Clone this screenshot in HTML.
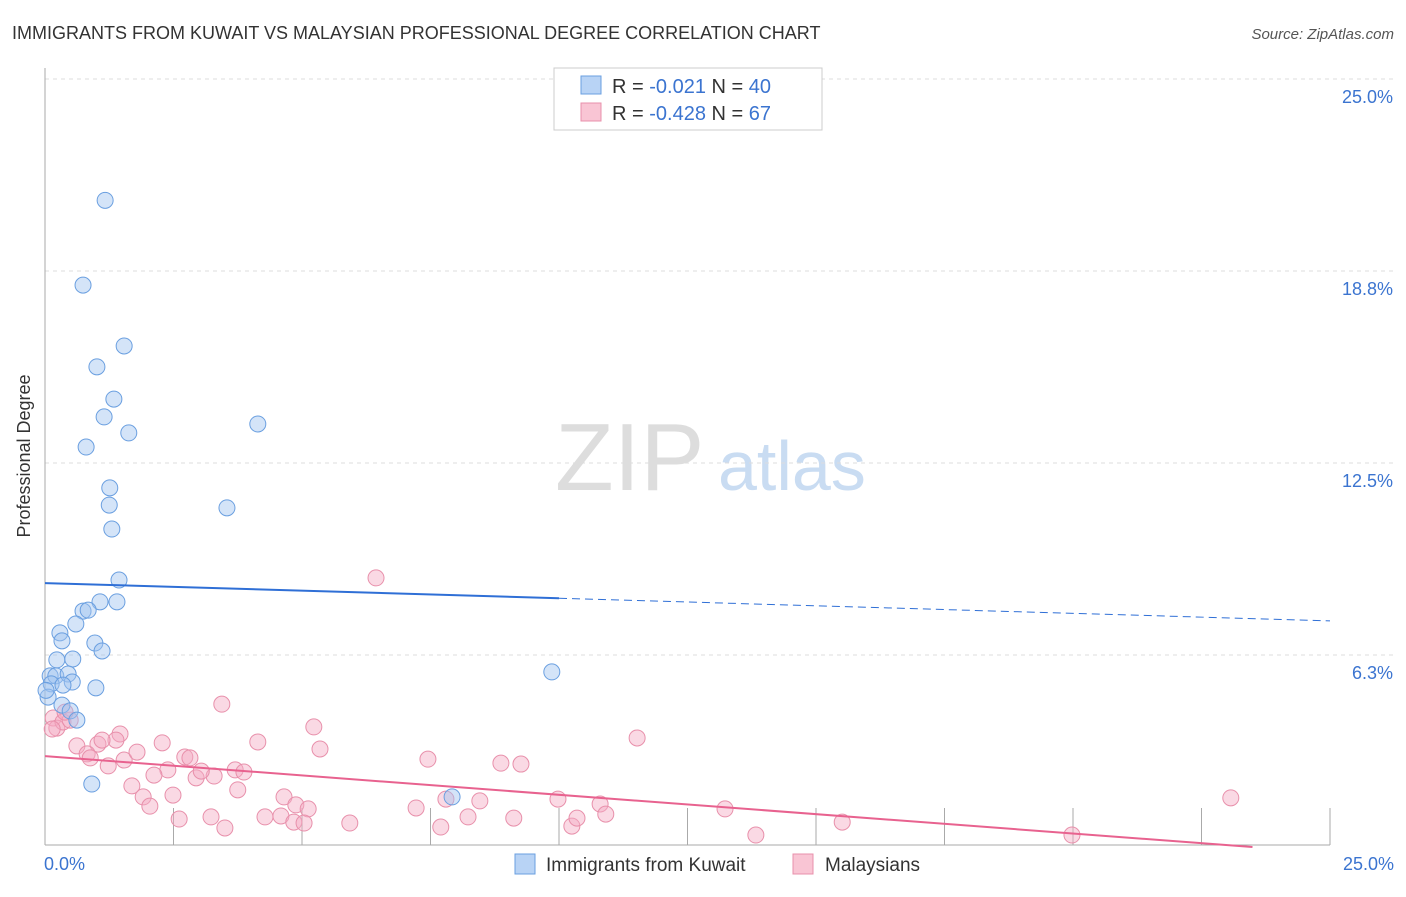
<!DOCTYPE html>
<html><head><meta charset="utf-8"><style>
body{margin:0;background:#fff;font-family:"Liberation Sans",sans-serif;}
svg text{font-family:"Liberation Sans",sans-serif;}
</style></head><body>
<svg id="c" width="1406" height="892">
<text x="12" y="39" font-size="18" fill="#333">IMMIGRANTS FROM KUWAIT VS MALAYSIAN PROFESSIONAL DEGREE CORRELATION CHART</text>
<text x="1394" y="39" font-size="15" fill="#555" font-style="italic" text-anchor="end">Source: ZipAtlas.com</text>
<text x="30" y="456" font-size="18" fill="#333" text-anchor="middle" transform="rotate(-90 30 456)">Professional Degree</text>
<text x="555" y="490" font-size="96" fill="#ddd" font-family="Liberation Serif">ZIP</text>
<text x="718" y="490" font-size="70" fill="#c9dcf2">atlas</text>
<g id="grid"></g><g id="axes"></g><g id="pts"></g><g id="lines"></g>
<g>
<rect x="554" y="68" width="268" height="62" fill="#fff" stroke="#ccc"/>
<rect x="581" y="76" width="20" height="18" fill="#b8d3f5" stroke="#6a9fe0"/>
<rect x="581" y="103" width="20" height="18" fill="#f9c5d4" stroke="#e890ab"/>
<text x="612" y="93" font-size="20" fill="#333">R = <tspan fill="#3b74d0">-0.021</tspan>   N = <tspan fill="#3b74d0">40</tspan></text>
<text x="612" y="120" font-size="20" fill="#333">R = <tspan fill="#3b74d0">-0.428</tspan>   N = <tspan fill="#3b74d0"> 67</tspan></text>
</g>
<g>
<rect x="515" y="854" width="20" height="20" fill="#b8d3f5" stroke="#6a9fe0"/>
<text x="546" y="871" font-size="19" fill="#333">Immigrants from Kuwait</text>
<rect x="793" y="854" width="20" height="20" fill="#f9c5d4" stroke="#e890ab"/>
<text x="825" y="871" font-size="19" fill="#333">Malaysians</text>
</g>
</svg>
<script>
const yTicks=[6.25,12.5,18.75,25];
const yTickLabels=["6.3%","12.5%","18.8%","25.0%"];
const xTickLabels=["0.0%","25.0%"];
const blueX=[1.17,0.74,1.54,1.01,1.34,1.15,1.63,4.14,0.80,1.26,1.25,1.30,3.54,1.44,1.40,1.07,0.74,0.84,0.60,0.29,0.33,0.97,1.11,0.23,0.54,9.86,0.10,0.21,0.45,0.53,0.12,0.35,0.99,0.06,0.33,0.49,0.62,7.92,0.91,0.02];
const blueY=[21.05,18.29,16.31,15.63,14.58,14.0,13.48,13.77,13.02,11.69,11.13,10.35,11.04,8.69,7.98,7.98,7.68,7.71,7.26,6.97,6.71,6.64,6.38,6.09,6.12,5.70,5.57,5.57,5.63,5.37,5.31,5.27,5.18,4.88,4.62,4.43,4.13,1.63,2.05,5.1];
const pinkPx=[[376,578],[222,704],[53,718],[57,728],[63,722],[70,720],[65,712],[314,727],[258,742],[320,749],[77,746],[98,744],[120,734],[116,740],[102,740],[87,754],[90,758],[108,766],[124,760],[137,752],[162,743],[185,757],[190,758],[168,770],[154,775],[196,778],[214,776],[235,770],[244,772],[201,771],[132,786],[143,797],[150,806],[173,795],[179,819],[211,817],[225,828],[238,790],[265,817],[281,816],[284,797],[296,805],[308,809],[294,822],[304,823],[350,823],[416,808],[428,759],[441,827],[446,799],[468,817],[480,801],[501,763],[514,818],[521,764],[558,799],[572,826],[577,818],[600,804],[606,814],[637,738],[725,809],[756,835],[842,822],[1072,835],[1231,798],[52,729]];
const pinkX=pinkPx.map(p=>+((p[0]-45)/51.4).toFixed(2));
const pinkY=pinkPx.map(p=>+((847-p[1])/30.72).toFixed(2));
const blueTrend=[8.59,7.36];
const pinkTrend=[2.96,-0.19];
const NS="http://www.w3.org/2000/svg";
const X=v=>45+v*51.4, Y=v=>847-v*30.72;
function mk(tag,attrs,parent){const e=document.createElementNS(NS,tag);for(const k in attrs)e.setAttribute(k,attrs[k]);document.getElementById(parent).appendChild(e);return e;}
yTicks.forEach((t,i)=>{
 const l=mk('line',{x1:45,x2:1394,y1:Y(t),y2:Y(t),stroke:'#ddd','stroke-dasharray':'4,4'},'grid');
 
 
 const tx=mk('text',{x:1393,y:Y(t)+24,'font-size':18,fill:'#3b74d0','text-anchor':'end'},'grid');
 tx.textContent=yTickLabels[i];
 
 
});
let a=mk('line',{x1:45,x2:45,y1:68,y2:845,stroke:'#aaa'},'axes');


a=mk('line',{x1:45,x2:1330,y1:845,y2:845,stroke:'#aaa'},'axes');


for(let i=1;i<=10;i++){const t=mk('line',{x1:X(i*2.5),x2:X(i*2.5),y1:808,y2:845,stroke:'#aaa'},'axes');
 
 }
[[0,'start',44],[25,'end',1394]].forEach((d,i)=>{const t=mk('text',{x:d[2],y:870,'font-size':18,fill:'#3b74d0','text-anchor':d[1]},'axes');t.textContent=xTickLabels[i];
 
 });
pinkX.forEach((x,i)=>{const c=mk('circle',{cx:X(x),cy:Y(pinkY[i]),r:8,fill:'rgba(245,170,195,0.45)',stroke:'#e890ab','stroke-width':1},'pts');
 
 });
blueX.forEach((x,i)=>{const c=mk('circle',{cx:X(x),cy:Y(blueY[i]),r:8,fill:'rgba(160,195,240,0.45)',stroke:'#6a9fe0','stroke-width':1},'pts');
 
 });
const bm=blueTrend[0]+(blueTrend[1]-blueTrend[0])*10/25;
let l=mk('line',{x1:X(0),y1:Y(blueTrend[0]),x2:X(10),y2:Y(bm),stroke:'#2f6fd6','stroke-width':2},'lines');


l=mk('line',{x1:X(10),y1:Y(bm),x2:X(25),y2:Y(blueTrend[1]),stroke:'#2f6fd6','stroke-width':1,'stroke-dasharray':'8,5'},'lines');


const xz=25*pinkTrend[0]/(pinkTrend[0]-pinkTrend[1]);
l=mk('line',{x1:X(0),y1:Y(pinkTrend[0]),x2:X(xz),y2:Y(0),stroke:'#e8628f','stroke-width':2},'lines');


</script>
</body></html>
